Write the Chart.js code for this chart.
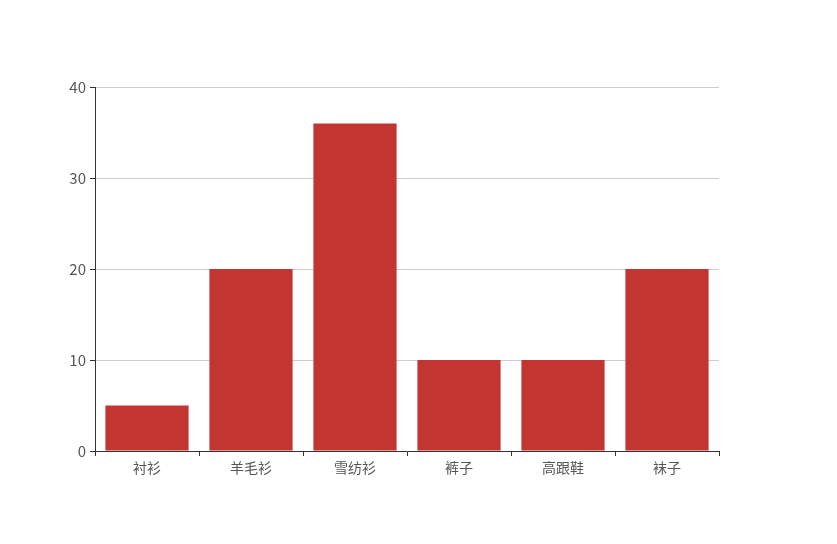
<!DOCTYPE html>
<html>
<head>
<meta charset="utf-8">
<script src="https://cdn.jsdelivr.net/npm/chart.js@4/dist/chart.umd.min.js"></script>
<style>
  html, body { margin: 0; padding: 0; background: #fff; }
  #wrap { width: 837px; height: 544px; }
</style>
</head>
<body>
<div id="wrap"><canvas id="c" width="837" height="544"></canvas></div>
<script>
const categories = ['衬衫', '羊毛衫', '雪纺衫', '裤子', '高跟鞋', '袜子'];
const sales = [5, 20, 36, 10, 10, 20];
const yTicks = [0, 10, 20, 30, 40];

const font = { family: '"Noto Sans CJK SC", "Noto Sans", sans-serif', size: 14 };

new Chart(document.getElementById('c'), {
  type: 'bar',
  data: {
    labels: categories,
    datasets: [{
      label: '销量',
      data: sales,
      backgroundColor: '#c23531',
      barPercentage: 0.8,
      categoryPercentage: 1
    }]
  },
  options: {
    responsive: false,
    animation: false,
    layout: { padding: { top: 87, right: 118, left: 0, bottom: 0 } },
    plugins: { legend: { display: false }, tooltip: { enabled: false } },
    scales: {
      x: {
        offset: true,
        grid: { offset: true, drawOnChartArea: false, color: '#333', tickLength: 5 },
        border: { color: '#333', width: 1 },
        ticks: { color: '#555', font, padding: 3 },
        afterFit: s => { s.height = 93; }
      },
      y: {
        min: 0,
        max: yTicks[yTicks.length - 1],
        afterBuildTicks: s => { s.ticks = yTicks.map(v => ({ value: v })); },
        grid: { color: '#ccc', tickColor: '#333', tickLength: 5 },
        border: { color: '#333', width: 1 },
        ticks: { color: '#555', font: { ...font, size: 15 }, padding: 4 },
        afterFit: s => { s.width = 95; }
      }
    }
  }
});
</script>
</body>
</html>
